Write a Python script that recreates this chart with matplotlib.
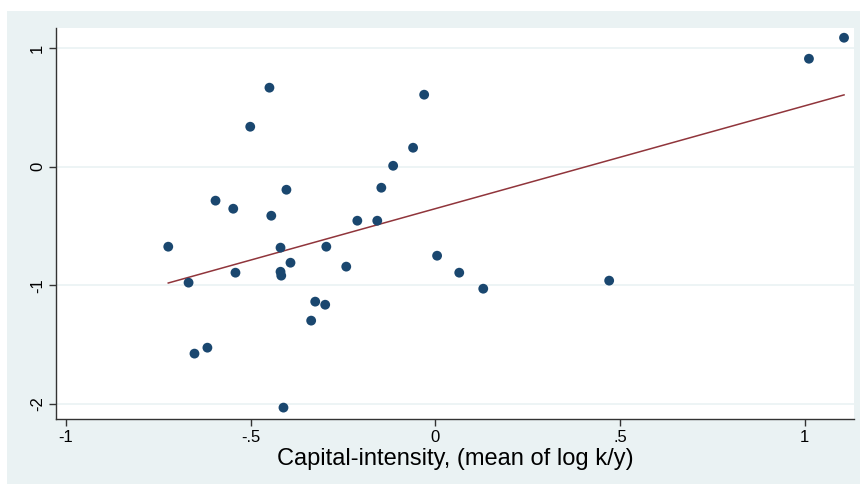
import numpy as np
import matplotlib
matplotlib.use("Agg")
import matplotlib.pyplot as plt
from matplotlib.patches import Rectangle

plt.rcParams['font.family'] = ['Liberation Sans', 'DejaVu Sans']

capital_intensity = [-0.723, -0.668, -0.652, -0.617, -0.595, -0.547, -0.541, -0.501, -0.449,
                     -0.444, -0.419, -0.419, -0.417, -0.411, -0.403, -0.392, -0.336, -0.325,
                     -0.298, -0.295, -0.241, -0.211, -0.157, -0.146, -0.114, -0.060, -0.030,
                     0.005, 0.065, 0.130, 0.471, 1.012, 1.107]
outcome = [-0.674, -0.977, -1.575, -1.525, -0.286, -0.354, -0.893, 0.337, 0.666,
           -0.413, -0.682, -0.885, -0.918, -2.03, -0.194, -0.809, -1.297, -1.137,
           -1.163, -0.674, -0.842, -0.455, -0.455, -0.177, 0.008, 0.160, 0.607,
           -0.750, -0.893, -1.028, -0.960, 0.910, 1.087]
x_ticks = [-1, -0.5, 0, 0.5, 1]
x_tick_labels = ['-1', '-.5', '0', '.5', '1']
y_ticks = [-2, -1, 0, 1]
y_tick_labels = ['-2', '-1', '0', '1']
x_label = 'Capital-intensity, (mean of log k/y)'

bg = '#eaf2f3'
navy = '#1a476f'
maroon = '#90353b'

fig = plt.figure(figsize=(8.6, 4.84), dpi=100)
fig.patch.set_facecolor('white')
fig.add_artist(Rectangle((7/860, 0), 1 - 7/860, (484 - 11)/484, transform=fig.transFigure,
                         facecolor=bg, edgecolor='none', zorder=-10))
ax = fig.add_axes([56/860, (484 - 419)/484, (854 - 56)/860, (419 - 28)/484])
ax.set_zorder(5)
ax.set_facecolor('white')

x = np.array(capital_intensity)
y = np.array(outcome)
b, a = np.polyfit(x, y, 1)
xs = np.array([x.min(), x.max()])

ax.scatter(x, y, s=50, color=navy, edgecolors='none', zorder=3)
ax.plot(xs, a + b * xs, color=maroon, lw=1.1, zorder=2)

ax.set_xlim(-1.027, 1.134)
ax.set_ylim(-2.126, 1.169)
ax.set_xticks(x_ticks)
ax.set_xticklabels(x_tick_labels)
ax.set_yticks(y_ticks)
ax.set_yticklabels(y_tick_labels, rotation=90, va='center')
ax.grid(axis='y', color=bg, lw=1.2)
ax.set_axisbelow(True)
for s in ['top', 'right']:
    ax.spines[s].set_visible(False)
for s in ['left', 'bottom']:
    ax.spines[s].set_color('#333333')
    ax.spines[s].set_linewidth(1.0)
ax.tick_params(direction='out', length=5, width=1, color='#333333', labelsize=12, pad=3)
ax.set_xlabel(x_label, fontsize=17, labelpad=2)

fig.savefig('out.png', dpi=100, facecolor=fig.get_facecolor())
